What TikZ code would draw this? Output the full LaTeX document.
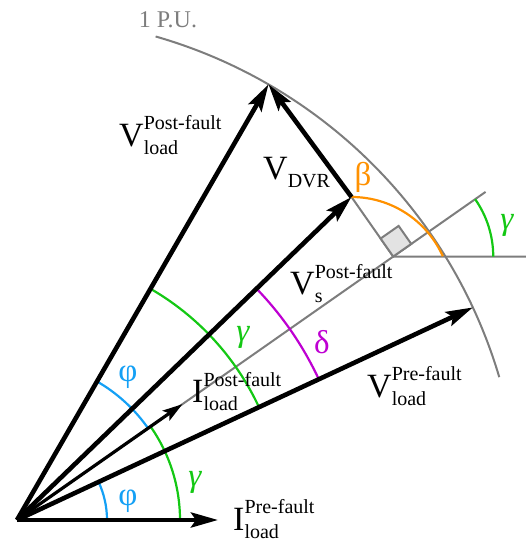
\documentclass[tikz,border=0pt]{standalone}
\usepackage{fontspec}
\setmainfont{Liberation Serif}
\usetikzlibrary{arrows.meta}

\definecolor{phiblue}{RGB}{20,160,245}
\definecolor{gamgreen}{RGB}{20,200,20}
\definecolor{delmag}{RGB}{190,0,210}
\definecolor{betorange}{RGB}{255,145,0}
\definecolor{pugray}{RGB}{125,125,125}

% phasor label: letter, superscript, subscript
\newcommand{\phasor}[3]{\fontsize{34}{34}\selectfont #1\fontsize{20}{20}\selectfont\rlap{\raisebox{17pt}{#2}}\raisebox{-8pt}{#3}}

\begin{document}
\begin{tikzpicture}[x=1pt,y=1pt,
    vec/.style={line width=4.6pt,-{Stealth[length=27pt,width=15pt,inset=5pt]}},
    thinvec/.style={line width=3.2pt,-{Stealth[length=20pt,width=12pt,inset=4pt]}},
    guide/.style={pugray,line width=2pt},
    anglearc/.style={line width=2.2pt},
    lbl/.style={inner sep=0pt,anchor=base west},
    grk/.style={inner sep=0pt,font=\fontsize{33}{33}\selectfont}]
    \useasboundingbox (-17,-22) rectangle (509,520);

    % Phasor tips
    \coordinate (O) at (0,0);
    \coordinate (Ipre) at (201,0);
    \coordinate (Vpre) at (25:503);
    \coordinate (Ipost) at (35:202);
    \coordinate (Vs) at (44:465);
    \coordinate (Vpost) at (60:503);
    \coordinate (P) at (35:459.3);
    \coordinate (Pend) at (35:572);
    \coordinate (Hend) at (509,263.4);

    % 1 P.U. circle
    \draw[guide] (74:503) arc[start angle=74,end angle=16.5,radius=503];
    \node[pugray,inner sep=0pt,font=\fontsize{24}{24}\selectfont] (pu) at (151,500) {1 P.U.};

    % Construction lines
    \draw[guide] (O) -- (Pend);
    \draw[guide] (P) -- (Hend);
    \draw[guide] (Vs) -- (P);
    \draw[guide,fill=gray!22] (P) -- ++(125:22) -- ++(35:22) -- ++(-55:22) -- cycle;

    % Angle arcs
    \draw[phiblue,anglearc] (0:90) arc[start angle=0,end angle=25,radius=90];
    \draw[gamgreen,anglearc] (0:163) arc[start angle=0,end angle=35,radius=163];
    \draw[phiblue,anglearc] (35:160) arc[start angle=35,end angle=60,radius=160];
    \draw[gamgreen,anglearc] (25:267) arc[start angle=25,end angle=60,radius=267];
    \draw[delmag,anglearc] (25:333) arc[start angle=25,end angle=44,radius=333];
    \draw[gamgreen,anglearc] ([shift={(0:100)}]P) arc[start angle=0,end angle=35,radius=100];
    \draw[betorange,anglearc] (Vs) arc[start angle=90,end angle=24,radius=100];

    % Phasors
    \draw[vec] (O) -- (Ipre);
    \draw[vec] (O) -- (Vpre);
    \draw[thinvec] (O) -- (Ipost);
    \draw[vec] (O) -- (Vs);
    \draw[vec] (O) -- (Vpost);
    \draw[vec] (Vs) -- (Vpost);

    % Labels
    \node[lbl] (lvpost) at (102,373) {\phasor{V}{Post-fault}{load}};
    \node[lbl] (lvdvr) at (246,340) {\phasor{V}{}{DVR}};
    \node[lbl] (lvs) at (273,225) {\phasor{V}{Post-fault}{s}};
    \node[lbl] (lipost) at (175,117) {\phasor{I}{Post-fault}{load}};
    \node[lbl] (lvpre) at (350,122) {\phasor{V}{Pre-fault}{load}};
    \node[lbl] (lipre) at (216,-10) {\phasor{I}{Pre-fault}{load}};

    \node[grk,betorange] (beta) at (346,343) {β};
    \node[grk,gamgreen] (gamr) at (490,295) {\itshape γ};
    \node[grk,delmag] (delta) at (305,178) {δ};
    \node[grk,phiblue] (phiu) at (111,143) {φ};
    \node[grk,phiblue] (phil) at (111,19) {φ};
    \node[grk,gamgreen] (gaml) at (178,38) {\itshape γ};
    \node[grk,gamgreen] (gamu) at (226,183) {\itshape γ};
\end{tikzpicture}
\end{document}
